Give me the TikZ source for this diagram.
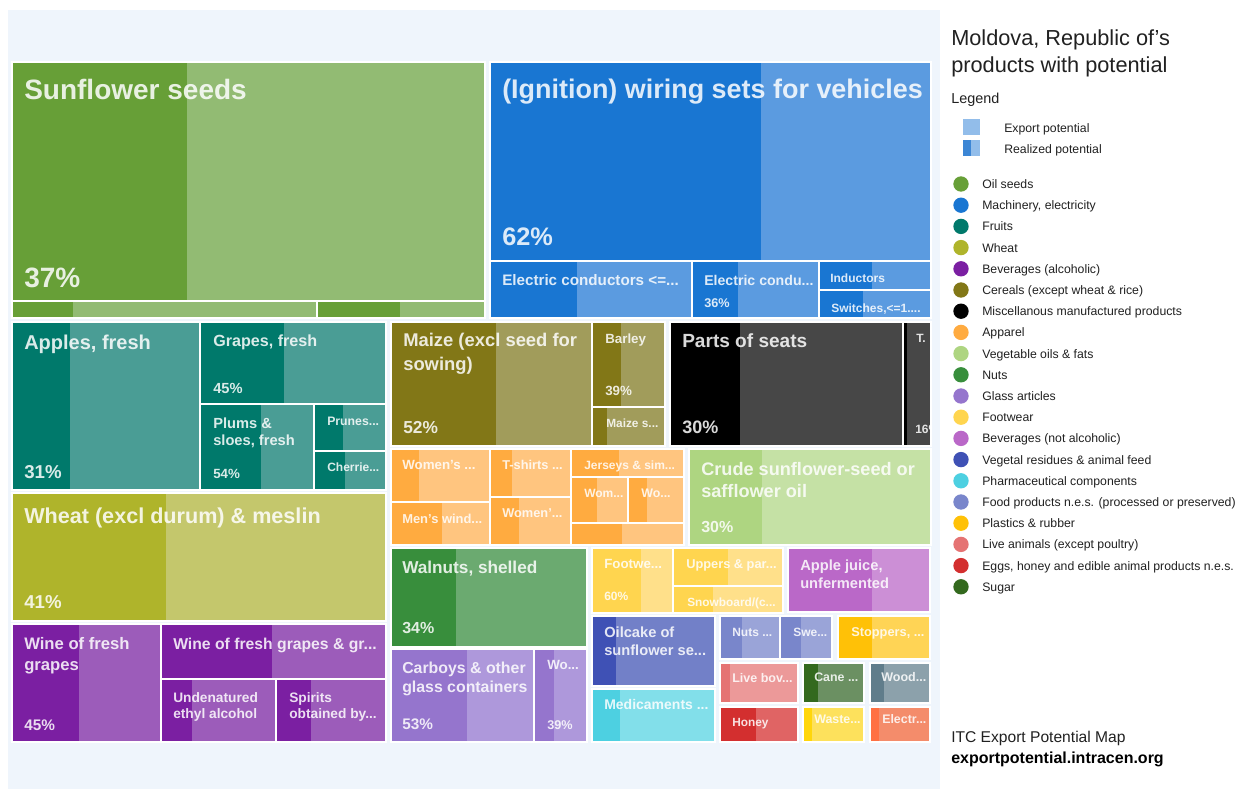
\documentclass[tikz,border=0pt]{standalone}
\usepackage{fontspec}
\setmainfont{Liberation Sans}
\usepackage{tikz}
\usetikzlibrary{positioning}

% category colours: D = realized part, L = export potential
\definecolor{panel}{HTML}{EFF5FC}
\definecolor{ink}{HTML}{212121}
\definecolor{oilD}{HTML}{679F37}\definecolor{oilL}{HTML}{92BB73}
\definecolor{macD}{HTML}{1976D2}\definecolor{macL}{HTML}{5B9BE0}
\definecolor{fruD}{HTML}{00796B}\definecolor{fruL}{HTML}{4A9D95}
\definecolor{whtD}{HTML}{AFB42B}\definecolor{whtL}{HTML}{C4C76C}
\definecolor{bevD}{HTML}{7B1FA2}\definecolor{bevL}{HTML}{9C5CBA}
\definecolor{cerD}{HTML}{827717}\definecolor{cerL}{HTML}{A19C5B}
\definecolor{misD}{HTML}{000000}\definecolor{misL}{HTML}{474747}
\definecolor{appD}{HTML}{FFAB40}\definecolor{appL}{HTML}{FFC57F}
\definecolor{vegD}{HTML}{AED581}\definecolor{vegL}{HTML}{C5E1A5}
\definecolor{nutD}{HTML}{388E3C}\definecolor{nutL}{HTML}{6BAA70}
\definecolor{glsD}{HTML}{9575CD}\definecolor{glsL}{HTML}{AE98DB}
\definecolor{ftwD}{HTML}{FFD54F}\definecolor{ftwL}{HTML}{FFE08A}
\definecolor{bnaD}{HTML}{BA68C8}\definecolor{bnaL}{HTML}{CC8FD6}
\definecolor{vgrD}{HTML}{3F51B5}\definecolor{vgrL}{HTML}{7280C8}
\definecolor{phaD}{HTML}{4DD0E1}\definecolor{phaL}{HTML}{82DFEA}
\definecolor{fodD}{HTML}{7986CB}\definecolor{fodL}{HTML}{9AA4D8}
\definecolor{plaD}{HTML}{FFC107}\definecolor{plaL}{HTML}{FFD455}
\definecolor{livD}{HTML}{E57373}\definecolor{livL}{HTML}{EC9999}
\definecolor{eggD}{HTML}{D32F2F}\definecolor{eggL}{HTML}{E06464}
\definecolor{sugD}{HTML}{33691E}\definecolor{sugL}{HTML}{6B9062}
\definecolor{wasD}{HTML}{FFD60A}\definecolor{wasL}{HTML}{FDE15C}
\definecolor{wodD}{HTML}{607D8B}\definecolor{wodL}{HTML}{8CA1AB}
\definecolor{eleD}{HTML}{FF7043}\definecolor{eleL}{HTML}{F48C6B}
\definecolor{swL}{HTML}{92BDEA}\definecolor{swD}{HTML}{3C86D5}

% one treemap tile: x1 y1 x2 y2, split x, colour prefix
\newcommand{\tile}[6]{%
  \fill[#6L] (#1,#2) rectangle (#3,#4);
  \fill[#6D] (#1,#2) rectangle (#5,#4);
  \draw[gap] (#1,#2) rectangle (#3,#4);}
\newcommand{\fs}[2]{\fontsize{#1}{#2}\selectfont\bfseries}

\begin{document}
\begin{tikzpicture}[
            x=0.75pt, y=-0.75pt,
            gap/.style={draw=white, line width=1pt},
            lbl/.style={anchor=base west, inner sep=0pt, text=white, text opacity=0.85, align=left},
            legtext/.style={anchor=base west, inner sep=0pt, text=ink, font=\fontsize{9.2}{11}\selectfont},
            dot/.style={circle, inner sep=0pt, minimum size=11.5pt}
        ]
        \useasboundingbox (0,0) rectangle (1242,789);
        \fill[white] (0,0) rectangle (1242,789);
        \fill[panel] (8,10) rectangle (940,789);

        % Oil seeds
        \tile{12}{62}{485}{301}{187}{oil}
        \tile{12}{301}{317}{318}{73}{oil}
        \tile{317}{301}{485}{318}{400}{oil}
        % Machinery, electricity
        \tile{490}{62}{931}{261}{761}{mac}
        \tile{490}{261}{692}{318}{577}{mac}
        \tile{692}{261}{819}{318}{738}{mac}
        \tile{819}{261}{931}{290}{872}{mac}
        \tile{819}{290}{931}{318}{863}{mac}
        % Fruits
        \tile{12}{322}{200}{490}{70}{fru}
        \tile{200}{322}{386}{404}{284}{fru}
        \tile{200}{404}{314}{490}{261}{fru}
        \tile{314}{404}{386}{451}{343}{fru}
        \tile{314}{451}{386}{490}{345}{fru}
        % Wheat
        \tile{12}{493}{386}{621}{166}{wht}
        % Beverages (alcoholic)
        \tile{12}{624}{161}{742}{79}{bev}
        \tile{161}{624}{386}{679}{272}{bev}
        \tile{161}{679}{276}{742}{192}{bev}
        \tile{276}{679}{386}{742}{311}{bev}
        % Cereals
        \tile{391}{322}{592}{446}{496}{cer}
        \tile{592}{322}{665}{407}{621}{cer}
        \tile{592}{407}{665}{446}{607}{cer}
        % Miscellanous manufactured products
        \tile{670}{322}{903}{446}{740}{mis}
        \tile{903}{322}{931}{446}{907}{mis}
        % Apparel
        \tile{391}{449}{490}{502}{419}{app}
        \tile{391}{502}{490}{545}{442}{app}
        \tile{490}{449}{571}{497}{512}{app}
        \tile{490}{497}{571}{545}{519}{app}
        \tile{571}{449}{684}{477}{619}{app}
        \tile{571}{477}{628}{523}{597}{app}
        \tile{628}{477}{684}{523}{647}{app}
        \tile{571}{523}{684}{545}{622}{app}
        % Vegetable oils
        \tile{689}{449}{931}{545}{762}{veg}
        % Nuts, glass
        \tile{391}{548}{587}{647}{456}{nut}
        \tile{391}{649}{534}{742}{467}{gls}
        \tile{534}{649}{587}{742}{554}{gls}
        % Footwear, beverages (not alcoholic)
        \tile{592}{548}{673}{613}{641}{ftw}
        \tile{673}{548}{783}{586}{728}{ftw}
        \tile{673}{586}{783}{613}{713}{ftw}
        \tile{788}{548}{930}{612}{872}{bna}
        % small ones
        \tile{592}{616}{715}{686}{616}{vgr}
        \tile{592}{689}{715}{742}{620}{pha}
        \tile{720}{616}{780}{659}{742}{fod}
        \tile{780}{616}{832}{659}{801}{fod}
        \tile{838}{616}{930}{659}{872}{pla}
        \tile{720}{663}{798}{703}{730}{liv}
        \tile{720}{707}{798}{742}{756}{egg}
        \tile{803}{663}{864}{703}{818}{sug}
        \tile{803}{707}{864}{742}{812}{was}
        \tile{870}{663}{930}{703}{884}{wod}
        \tile{870}{707}{930}{742}{879}{ele}

        % Labels of the tiles (two-line labels sit on their last line)
        \node[lbl, font=\fs{21}{25}] (sunflower) at (24,99) {Sunflower seeds};
        \node[lbl, font=\fs{21}{25}] (sunflowerpct) at (24,287) {37\%};
        \node[lbl, font=\fs{20.2}{24}] (wiring) at (502,98) {(Ignition) wiring sets for vehicles};
        \node[lbl, font=\fs{19}{23}] (wiringpct) at (502,245) {62\%};
        \node[lbl, font=\fs{11.4}{14}] (conductors) at (502,285) {Electric conductors <=...};
        \node[lbl, font=\fs{10.6}{13}] (condu) at (704,285) {Electric condu...};
        \node[lbl, font=\fs{9.5}{12}] (condupct) at (704,307) {36\%};
        \node[lbl, font=\fs{9}{11}] (inductors) at (830,282) {Inductors};
        \node[lbl, font=\fs{9}{11}] (switches) at (831,312) {Switches,<=1....};

        \node[lbl, font=\fs{15}{18}] (apples) at (24,349) {Apples, fresh};
        \node[lbl, font=\fs{14}{17}] (applespct) at (24,478) {31\%};
        \node[lbl, font=\fs{12.1}{15}] (grapes) at (213,346) {Grapes, fresh};
        \node[lbl, font=\fs{11}{13}] (grapespct) at (213,393) {45\%};
        \node[lbl, font=\fs{11}{12.75}] (plums) at (213,445) {Plums \&\\sloes, fresh};
        \node[lbl, font=\fs{10}{12}] (plumspct) at (213,478) {54\%};
        \node[lbl, font=\fs{9.2}{11}] (prunes) at (327,425) {Prunes...};
        \node[lbl, font=\fs{9}{11}] (cherries) at (327,471) {Cherrie...};
        \node[lbl, font=\fs{16.2}{19}] (wheat) at (24,523) {Wheat (excl durum) \& meslin};
        \node[lbl, font=\fs{14}{17}] (wheatpct) at (24,608) {41\%};

        \node[lbl, font=\fs{12.5}{15.75}] (wine) at (24,670) {Wine of fresh\\grapes};
        \node[lbl, font=\fs{11.5}{14}] (winepct) at (24,730) {45\%};
        \node[lbl, font=\fs{11.8}{14}] (winemust) at (173,649) {Wine of fresh grapes \& gr...};
        \node[lbl, font=\fs{10.3}{12}] (ethyl) at (173,718) {Undenatured\\ethyl alcohol};
        \node[lbl, font=\fs{10.3}{12}] (spirits) at (289,718) {Spirits\\obtained by...};

        \node[lbl, font=\fs{13.8}{18}] (maize) at (403,370) {Maize (excl seed for\\sowing)};
        \node[lbl, font=\fs{13}{16}] (maizepct) at (403,433) {52\%};
        \node[lbl, font=\fs{10}{12}] (barley) at (605,343) {Barley};
        \node[lbl, font=\fs{10}{12}] (barleypct) at (605,395) {39\%};
        \node[lbl, font=\fs{8.9}{11}] (maizeseed) at (606,427) {Maize s...};
        \node[lbl, font=\fs{14.3}{17}] (seats) at (682,347) {Parts of seats};
        \node[lbl, font=\fs{13.5}{16}] (seatspct) at (682,433) {30\%};
        \node[lbl, font=\fs{9}{11}] (tseat) at (916,342) {T.};
        \begin{scope}
            \clip (903,322) rectangle (931,446);
            \node[lbl, font=\fs{9}{11}] (tseatpct) at (915,433) {16\%};
        \end{scope}

        \node[lbl, font=\fs{10}{12}] (women) at (402,469) {Women's ...};
        \node[lbl, font=\fs{9.7}{12}] (menwind) at (402,523) {Men's wind...};
        \node[lbl, font=\fs{9.6}{12}] (tshirts) at (502,469) {T-shirts ...};
        \node[lbl, font=\fs{9.6}{12}] (womenb) at (502,517) {Women'...};
        \node[lbl, font=\fs{9}{11}] (jerseys) at (584,469) {Jerseys \& sim...};
        \node[lbl, font=\fs{9}{11}] (womc) at (584,497) {Wom...};
        \node[lbl, font=\fs{9.3}{11}] (wod) at (641,497) {Wo...};
        \node[lbl, font=\fs{13.6}{16.5}] (crude) at (701,497) {Crude sunflower-seed or\\safflower oil};
        \node[lbl, font=\fs{12}{14}] (crudepct) at (701,532) {30\%};

        \node[lbl, font=\fs{12.9}{15}] (walnuts) at (402,573) {Walnuts, shelled};
        \node[lbl, font=\fs{12}{14}] (walnutspct) at (402,633) {34\%};
        \node[lbl, font=\fs{11.9}{14.25}] (carboys) at (402,692) {Carboys \& other\\glass containers};
        \node[lbl, font=\fs{11.5}{14}] (carboyspct) at (402,729) {53\%};
        \node[lbl, font=\fs{10}{12}] (glassb) at (547,669) {Wo...};
        \node[lbl, font=\fs{9.5}{12}] (glassbpct) at (547,729) {39\%};
        \node[lbl, font=\fs{10}{12}] (footwear) at (604,568) {Footwe...};
        \node[lbl, font=\fs{9}{11}] (footwearpct) at (604,600) {60\%};
        \node[lbl, font=\fs{9.6}{12}] (uppers) at (686,568) {Uppers \& par...};
        \node[lbl, font=\fs{8.9}{11}] (snowboard) at (687,606) {Snowboard/(c...};
        \node[lbl, font=\fs{11}{13.5}] (applejuice) at (800,588) {Apple juice,\\unfermented};
        \node[lbl, font=\fs{11}{13.5}] (oilcake) at (604,655) {Oilcake of\\sunflower se...};
        \node[lbl, font=\fs{10.5}{13}] (medicaments) at (604,709) {Medicaments ...};
        \node[lbl, font=\fs{9}{11}] (nutsprep) at (732,636) {Nuts ...};
        \node[lbl, font=\fs{9}{11}] (sweet) at (793,636) {Swe...};
        \node[lbl, font=\fs{9.6}{12}] (stoppers) at (851,636) {Stoppers, ...};
        \node[lbl, font=\fs{9.4}{12}] (bovine) at (732,682) {Live bov...};
        \node[lbl, font=\fs{9.3}{11}] (cane) at (814,681) {Cane ...};
        \node[lbl, font=\fs{9.4}{11}] (wood) at (881,681) {Wood...};
        \node[lbl, font=\fs{8.9}{11}] (honey) at (732,726) {Honey};
        \node[lbl, font=\fs{9.3}{11}] (waste) at (814,723) {Waste...};
        \node[lbl, font=\fs{9.3}{11}] (electr) at (882,723) {Electr...};

        % Legend
        \node[anchor=base west, inner sep=0pt, text=ink, align=left, font=\fontsize{16.3}{20.25}\selectfont] (title) at (951,72) {Moldova, Republic of's\\products with potential};
        \node[anchor=base west, inner sep=0pt, text=ink, font=\fontsize{10.8}{13}\selectfont] (legend) at (951,103) {Legend};
        \fill[swL] (963,119) rectangle (980,135);
        \node[legtext] (export) at (1004,132) {Export potential};
        \fill[swL] (963,140) rectangle (980,156);
        \fill[swD] (963,140) rectangle (971,156);
        \node[legtext] (realized) at (1004,153) {Realized potential};
        \foreach \c/\t [count=\i from 0] in {oilD/Oil seeds, macD/{Machinery, electricity}, fruD/Fruits, whtD/Wheat,
            bevD/Beverages (alcoholic), cerD/Cereals (except wheat \& rice), misD/Miscellanous manufactured products,
            appD/Apparel, vegD/Vegetable oils \& fats, nutD/Nuts, glsD/Glass articles, ftwD/Footwear,
            bnaD/Beverages (not alcoholic), vgrD/Vegetal residues \& animal feed, phaD/Pharmaceutical components,
            fodD/Food products n.e.s. (processed or preserved), plaD/Plastics \& rubber,
            livD/Live animals (except poultry), eggD/{Eggs, honey and edible animal products n.e.s.}, sugD/Sugar}
        {
            \node[dot, fill=\c] (dot\i) at (961,{184+21.2*\i}) {};
            \node[legtext] (leg\i) at (982,{188.5+21.2*\i}) {\t};
        }

        % Footer
        \node[anchor=base west, inner sep=0pt, text=ink, font=\fontsize{11.7}{14}\selectfont] (itc) at (951,742) {ITC Export Potential Map};
        \node[anchor=base west, inner sep=0pt, text=black, font=\fontsize{12}{14}\selectfont\bfseries] (site) at (951,763) {exportpotential.intracen.org};
    \end{tikzpicture}
\end{document}
